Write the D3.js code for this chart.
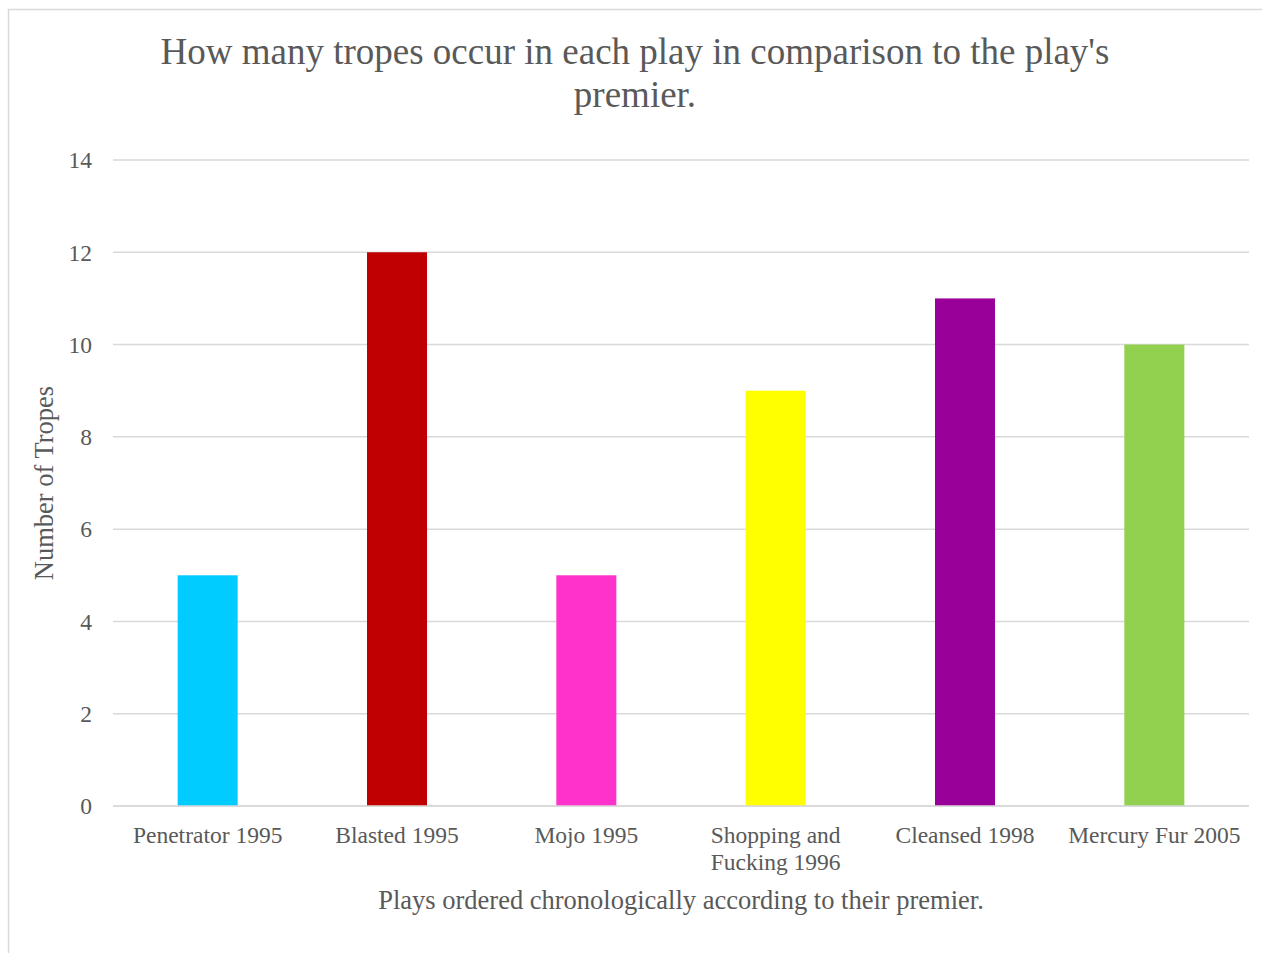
<!DOCTYPE html>
<html>
<head>
<meta charset="utf-8">
<script src="https://cdn.jsdelivr.net/npm/d3@7"></script>
<style>
  html, body { margin: 0; padding: 0; background: #fff; }
  svg { display: block; font-family: "Liberation Serif", "Times New Roman", serif; }
</style>
</head>
<body>
<div id="chart"></div>
<script>
//Data
const plays = [
  ['Penetrator 1995'],
  ['Blasted 1995'],
  ['Mojo 1995'],
  ['Shopping and', 'Fucking 1996'],
  ['Cleansed 1998'],
  ['Mercury Fur 2005']
];
const tropes = [5, 12, 5, 9, 11, 10];
const barColors = ['#00CCFF', '#C00000', '#FF33CC', '#FFFF00', '#990099', '#92D050'];
const yTicks = [0, 2, 4, 6, 8, 10, 12, 14];
const titleLines = ["How many tropes occur in each play in comparison to the play's", 'premier.'];
const xTitle = 'Plays ordered chronologically according to their premier.';
const yTitle = 'Number of Tropes';

const W = 1262, H = 953;
const margin = { top: 160, right: 13, bottom: 147, left: 113 };
const textColor = '#595959';
const gridColor = '#d9d9d9';

const svg = d3.select('#chart').append('svg')
  .attr('width', W).attr('height', H);

// chart border (left + top visible)
svg.append('rect')
  .attr('x', 8.5).attr('y', 9.5)
  .attr('width', W + 20).attr('height', H + 20)
  .attr('fill', 'none').attr('stroke', gridColor).attr('stroke-width', 1.5);

const keys = plays.map(p => p.join(' '));
const x = d3.scaleBand().domain(keys)
  .range([margin.left, W - margin.right])
  .paddingInner(0.683).paddingOuter(0.3415);
const y = d3.scaleLinear().domain([0, 14]).range([H - margin.bottom, margin.top]);

// gridlines
svg.append('g')
  .selectAll('line')
  .data(yTicks)
  .join('line')
  .attr('x1', margin.left).attr('x2', W - margin.right)
  .attr('y1', d => y(d)).attr('y2', d => y(d))
  .attr('stroke', gridColor).attr('stroke-width', 1.5);

// y tick labels
svg.append('g')
  .selectAll('text')
  .data(yTicks)
  .join('text')
  .attr('x', 92)
  .attr('y', d => y(d))
  .attr('dy', '0.35em')
  .attr('text-anchor', 'end')
  .attr('fill', textColor)
  .attr('font-size', 23.5)
  .text(d => d);

// bars
svg.append('g')
  .selectAll('rect')
  .data(tropes)
  .join('rect')
  .attr('x', (d, i) => x(keys[i]))
  .attr('y', d => y(d))
  .attr('width', x.bandwidth())
  .attr('height', d => y(0) - y(d))
  .attr('fill', (d, i) => barColors[i]);

// redraw baseline on top
svg.append('line')
  .attr('x1', margin.left).attr('x2', W - margin.right)
  .attr('y1', y(0)).attr('y2', y(0))
  .attr('stroke', gridColor).attr('stroke-width', 1.5);

// category labels
const catG = svg.append('g');
plays.forEach((lines, i) => {
  const cx = x(keys[i]) + x.bandwidth() / 2;
  const t = catG.append('text')
    .attr('x', cx).attr('y', 843)
    .attr('text-anchor', 'middle')
    .attr('fill', textColor)
    .attr('font-size', 23.5);
  lines.forEach((ln, j) => {
    t.append('tspan').attr('x', cx).attr('dy', j === 0 ? 0 : 27).text(ln);
  });
});

// axis titles
svg.append('text')
  .attr('x', (margin.left + W - margin.right) / 2)
  .attr('y', 909)
  .attr('text-anchor', 'middle')
  .attr('fill', textColor)
  .attr('font-size', 26.5)
  .text(xTitle);

svg.append('text')
  .attr('transform', `translate(53,${(y(0) + y(14)) / 2}) rotate(-90)`)
  .attr('text-anchor', 'middle')
  .attr('fill', textColor)
  .attr('font-size', 26.5)
  .text(yTitle);

// title
const title = svg.append('text')
  .attr('x', 635).attr('y', 64)
  .attr('text-anchor', 'middle')
  .attr('fill', textColor)
  .attr('font-size', 37);
titleLines.forEach((ln, j) => {
  title.append('tspan').attr('x', 635).attr('dy', j === 0 ? 0 : 43).text(ln);
});
</script>
</body>
</html>
